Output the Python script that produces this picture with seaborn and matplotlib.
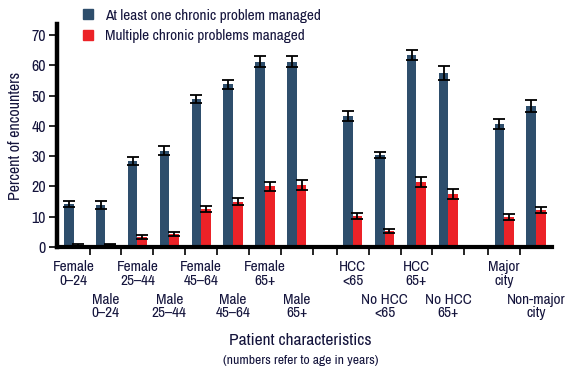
import matplotlib
matplotlib.use("Agg")
import matplotlib.pyplot as plt
import seaborn as sns
import pandas as pd
import numpy as np
from matplotlib.lines import Line2D

# ---- data ----
categories = ["Female\n0–24", "Male\n0–24", "Female\n25–44", "Male\n25–44",
              "Female\n45–64", "Male\n45–64", "Female\n65+", "Male\n65+",
              "HCC\n<65", "No HCC\n<65", "HCC\n65+", "No HCC\n65+",
              "Major\ncity", "Non-major\ncity"]
at_least_one = [14.2, 13.9, 28.4, 31.7, 48.9, 53.7, 61.1, 61.1,
                43.2, 30.4, 63.4, 57.4, 40.6, 46.5]
at_least_one_err = [1.0, 1.3, 1.2, 1.5, 1.4, 1.4, 1.8, 1.8,
                    1.6, 1.1, 1.7, 2.3, 1.5, 2.1]
multiple = [0.7, 0.8, 3.2, 4.3, 12.5, 15.0, 20.1, 20.4,
            10.2, 5.3, 21.5, 17.5, 9.9, 12.2]
multiple_err = [0.4, 0.3, 0.6, 0.7, 1.1, 1.2, 1.5, 1.7,
                0.9, 0.6, 1.6, 1.8, 1.0, 1.1]
series_names = ["At least one chronic problem managed",
                "Multiple chronic problems managed"]

# layout (positions on the x axis, with gaps between groups)
positions = [0, 1, 2, 3, 4, 5, 6, 7, 8.75, 9.75, 10.75, 11.75, 13.5, 14.5]
separators = [0.5, 1.5, 2.5, 3.5, 4.5, 5.5, 6.5, 7.5, 8.25, 9.25, 10.25,
              11.25, 12.25, 13.0, 14.0]

blue = "#2e4e6c"
red = "#ec2227"
txt = "#14143c"

sns.set_theme(style="white")
plt.rcParams["font.family"] = ["Archivo Narrow", "Roboto Condensed",
                               "DejaVu Sans"]

df = pd.DataFrame({
    "pos": positions * 2,
    "val": at_least_one + multiple,
    "series": [series_names[0]] * len(positions) + [series_names[1]] * len(positions),
})

fig = plt.figure(figsize=(5.67, 3.77), dpi=100)
ax = fig.add_axes([57 / 567, 130 / 377, 495 / 567, 223 / 377])

sns.barplot(data=df, x="pos", y="val", hue="series", hue_order=series_names,
            native_scale=True, width=0.6, palette=[blue, red], errorbar=None,
            saturation=1, linewidth=0, legend=False, ax=ax)

errs = [at_least_one_err, multiple_err]
for cont, err in zip(ax.containers, errs):
    xs = [b.get_x() + b.get_width() / 2 for b in cont]
    ys = [b.get_height() for b in cont]
    ax.errorbar(xs, ys, yerr=err, fmt="none", ecolor="black",
                elinewidth=1.3, capsize=4.2, capthick=1.3, zorder=5)

ax.set_xlim(-0.52, 15.0)
ax.set_ylim(0, 73.6)
ax.set_yticks(np.arange(0, 71, 10))
ax.set_xticks(separators)
ax.set_xticklabels([])
ax.set_xlabel("")
ax.set_ylabel("Percent of encounters", fontsize=11.5, color=txt, labelpad=6)

for s in ["top", "right"]:
    ax.spines[s].set_visible(False)
ax.spines["left"].set_linewidth(3.2)
ax.spines["bottom"].set_linewidth(3.0)
ax.spines["left"].set_color("black")
ax.spines["bottom"].set_color("black")
ax.tick_params(axis="y", direction="out", length=6, width=1.2, color="black",
               labelsize=11.5, labelcolor=txt, pad=2, left=True)
ax.tick_params(axis="x", direction="out", length=6, width=1.2, color="black",
               bottom=True)

# category labels in two alternating rows
for i, (p, lab) in enumerate(zip(positions, categories)):
    yoff = -0.06 if i % 2 == 0 else -0.205
    ax.text(p, yoff, lab, transform=ax.get_xaxis_transform(), ha="center",
            va="top", fontsize=11, color=txt, linespacing=0.95)

fig.text(0.53, 0.098, "Patient characteristics", ha="center", va="center",
         fontsize=12.5, color=txt)
fig.text(0.53, 0.045, "(numbers refer to age in years)", ha="center",
         va="center", fontsize=9.8, color=txt)

handles = [Line2D([0], [0], marker="s", linestyle="none", markersize=7,
                  markerfacecolor=c, markeredgecolor=c) for c in (blue, red)]
leg = fig.legend(handles, series_names, loc="upper left",
                 bbox_to_anchor=(0.126, 1.005), frameon=False, fontsize=11,
                 handlelength=0.8, handletextpad=0.7, labelspacing=0.42,
                 borderaxespad=0.3)
for t in leg.get_texts():
    t.set_color(txt)

fig.savefig("out.png", dpi=100)
